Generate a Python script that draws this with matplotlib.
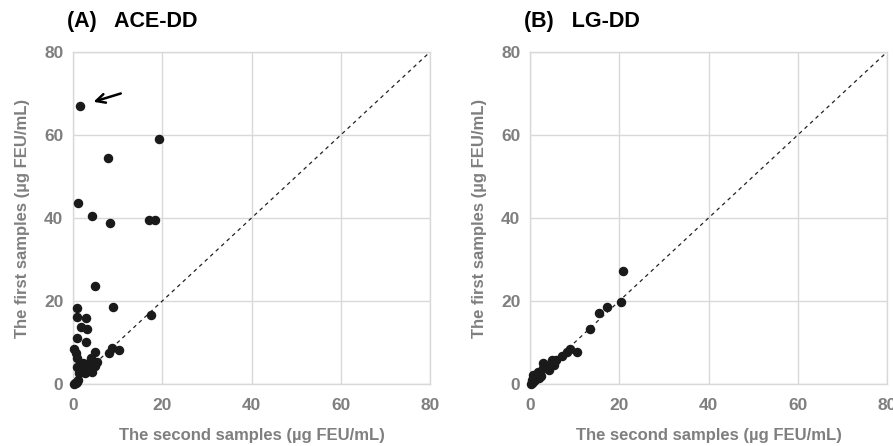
import matplotlib.pyplot as plt

plt.rcParams["font.family"] = ["Liberation Sans", "DejaVu Sans"]
plt.rcParams["font.weight"] = "bold"

# (A) ACE-DD: second sample (x) vs first sample (y), ug FEU/mL
ace_second = [1.6, 19.3, 7.8, 1.2, 4.2, 8.4, 17.1, 18.4, 4.9, 0.9, 8.9, 17.4,
              0.8, 2.9, 1.7, 3.2, 0.8, 2.9, 0.2, 0.7, 0.9, 4.9, 8.7, 10.2,
              8.1, 4.0, 5.3, 2.2, 0.8, 1.6, 4.2, 5.0, 3.4, 2.7, 4.2, 1.3,
              0.7, 0.2, 1.0, 0.4, 3.0, 1.2]
ace_first = [66.9, 59.0, 54.5, 43.6, 40.4, 38.9, 39.5, 39.5, 23.7, 18.3, 18.5, 16.6,
             16.1, 15.8, 13.8, 13.2, 11.2, 10.1, 8.4, 7.4, 6.2, 7.6, 8.6, 8.2,
             7.4, 6.2, 5.4, 5.0, 4.2, 3.4, 4.2, 4.4, 3.2, 2.6, 3.0, 2.6,
             0.2, 0.0, 0.6, 0.3, 4.8, 1.0]

# (B) LG-DD
lg_second = [20.9, 20.4, 17.3, 15.5, 13.4, 10.6, 9.0, 8.2, 7.1, 5.8, 4.9, 4.6,
             3.7, 3.0, 2.9, 2.2, 1.5, 0.75, 1.1, 0.4, 0.75, 0.15, 3.2, 2.5,
             1.8, 4.2, 5.3, 1.2, 2.0, 0.5]
lg_first = [27.2, 19.8, 18.6, 17.2, 13.2, 7.7, 8.4, 7.8, 6.7, 5.8, 5.9, 5.1,
            4.2, 5.0, 3.8, 3.0, 2.4, 2.2, 1.6, 0.2, 0.6, 0.0, 4.2, 2.0,
            2.8, 3.4, 4.6, 1.0, 1.4, 0.9]

ticks = [0, 20, 40, 60, 80]
xlabel = "The second samples (\u00b5g FEU/mL)"
ylabel = "The first samples (\u00b5g FEU/mL)"
grid_col = "#d9d9d9"
text_col = "#7f7f7f"

fig = plt.figure(figsize=(8.93, 4.46), dpi=100)
ax_a = fig.add_axes([73 / 893, 62 / 446, 357 / 893, 332 / 446])
ax_b = fig.add_axes([530 / 893, 62 / 446, 357 / 893, 332 / 446])

panels = [(ax_a, ace_second, ace_first, "(A)   ACE-DD"),
          (ax_b, lg_second, lg_first, "(B)   LG-DD")]

for ax, xs, ys, title in panels:
    ax.set_xlim(0, 80)
    ax.set_ylim(0, 80)
    ax.set_xticks(ticks)
    ax.set_yticks(ticks)
    ax.grid(True, color=grid_col, lw=1)
    ax.set_axisbelow(True)
    for sp in ax.spines.values():
        sp.set_color(grid_col)
        sp.set_linewidth(1)
    ax.tick_params(length=0, labelsize=12.5, labelcolor=text_col)
    ax.tick_params(axis="x", pad=10)
    ax.tick_params(axis="y", pad=7)
    ax.plot([0, 80], [0, 80], color="#222222", lw=0.9, ls=(0, (3, 3)), zorder=2)
    ax.scatter(xs, ys, s=34, color="#1a1a1a", zorder=3, clip_on=False)
    ax.set_xlabel(xlabel, fontsize=12, fontweight="bold", color=text_col, labelpad=11)
    ax.set_ylabel(ylabel, fontsize=12, fontweight="bold", color=text_col, labelpad=10)
    pos = ax.get_position()
    fig.text(pos.x0 - 6 / 893, 1 - 21 / 446, title, fontsize=15.5,
             fontweight="bold", color="black", va="center", ha="left")

# arrow pointing to the outlier in panel A
ax_a.annotate("", xy=(4.0, 67.8), xytext=(11.3, 70.2),
              arrowprops=dict(arrowstyle="->", color="black", lw=1.8,
                              mutation_scale=16))

fig.savefig("out.png", dpi=100)
